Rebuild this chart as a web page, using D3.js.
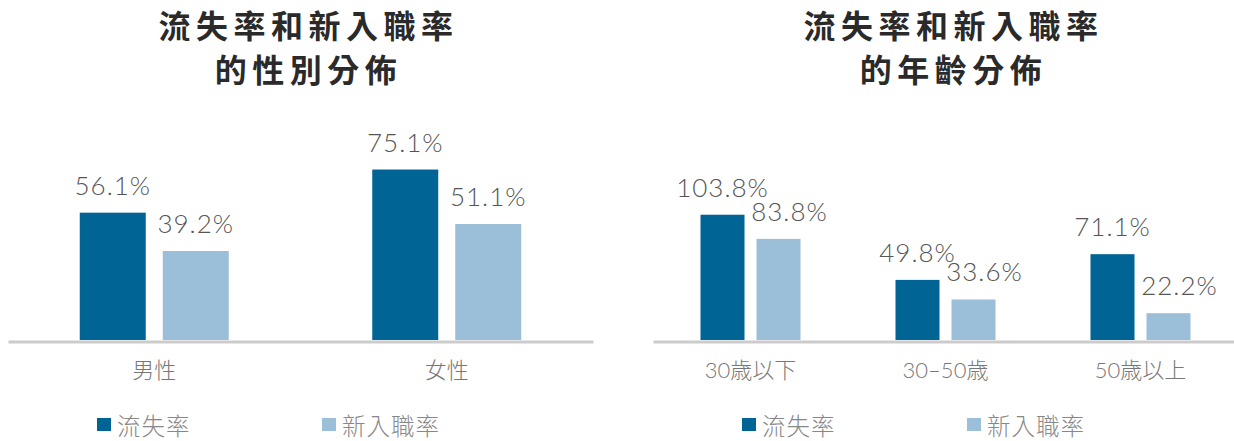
<!DOCTYPE html>
<html>
<head>
<meta charset="utf-8">
<script src="https://cdn.jsdelivr.net/npm/d3@7"></script>
<style>
    body { margin: 0; background: #fff; }
    .title { font-family: "Noto Sans CJK TC", sans-serif; font-weight: 700; fill: #2a2a2a; letter-spacing: 5.5px; }
    .value { font-family: "Lato", "Liberation Sans", sans-serif; font-weight: 300; fill: #555; letter-spacing: 1px; }
    .axis text { font-family: "Lato", "Noto Sans CJK TC", sans-serif; font-weight: 300; fill: #777; }
    .legend text { font-family: "Noto Sans CJK TC", sans-serif; font-weight: 300; fill: #888; letter-spacing: 1px; }
</style>
</head>
<body>
<div id="chart"></div>
<script>
// data
const seriesNames = ["流失率", "新入職率"];

const genderTitle = ["流失率和新入職率", "的性別分佈"];
const genderCategories = ["男性", "女性"];
const genderTurnover = [56.1, 75.1];
const genderNewHire = [39.2, 51.1];

const ageTitle = ["流失率和新入職率", "的年齡分佈"];
const ageCategories = ["30歳以下", "30–50歳", "50歳以上"];
const ageTurnover = [103.8, 49.8, 71.1];
const ageNewHire = [83.8, 33.6, 22.2];

const colors = d3.scaleOrdinal()
    .domain(seriesNames)
    .range(["#006495", "#9bbfd8"]);

const width = 1234, height = 441;
const baseline = 340;

let svg = d3.select("#chart").append("svg")
    .attr("width", width)
    .attr("height", height)
    .style("display", "block");

svg.append("rect").attr("width", width).attr("height", height).attr("fill", "#fff");

function drawPanel(opts) {
    let rows = opts.categories.map((c, i) => ({
        category: c,
        values: [opts.turnover[i], opts.newHire[i]]
    }));

    let x0 = d3.scaleBand()
        .domain(opts.categories)
        .range(opts.xRange)
        .padding(0);

    let pairWidth = opts.barWidth * 2 + opts.barGap;
    let x1 = d3.scaleBand()
        .domain(seriesNames)
        .range([0, pairWidth])
        .paddingInner(opts.barGap / (opts.barWidth + opts.barGap))
        .paddingOuter(0);

    let y = d3.scaleLinear()
        .domain([0, 100])
        .range([baseline, baseline - opts.pxPer100]);

    let g = svg.append("g");

    // title
    let cx = (opts.xRange[0] + opts.xRange[1]) / 2 + 8;
    g.selectAll(".title")
        .data(opts.title)
        .enter().append("text")
        .attr("class", "title")
        .attr("x", cx)
        .attr("y", (d, i) => 38 + i * 44)
        .attr("text-anchor", "middle")
        .style("font-size", "32px")
        .text(d => d);

    // bars
    let groups = g.selectAll(".group")
        .data(rows)
        .enter().append("g")
        .attr("class", "group")
        .attr("transform", d => "translate(" + (x0(d.category) + (x0.bandwidth() - pairWidth) / 2) + ",0)");

    groups.selectAll("rect")
        .data(d => d.values.map((v, i) => ({series: seriesNames[i], value: v})))
        .enter().append("rect")
        .attr("x", d => x1(d.series))
        .attr("y", d => y(d.value))
        .attr("width", x1.bandwidth())
        .attr("height", d => baseline - y(d.value))
        .attr("fill", d => colors(d.series));

    groups.selectAll(".value")
        .data(d => d.values.map((v, i) => ({series: seriesNames[i], value: v})))
        .enter().append("text")
        .attr("class", "value")
        .attr("x", d => x1(d.series) + x1.bandwidth() / 2 + (d.series === seriesNames[1] ? opts.labelShift : 0))
        .attr("y", d => y(d.value) - 18)
        .attr("text-anchor", "middle")
        .style("font-size", "26px")
        .text(d => d3.format(".1f")(d.value) + "%");

    // axis
    let xAxis = d3.axisBottom(x0)
        .tickSize(0)
        .tickPadding(21);

    let axisG = g.append("g")
        .attr("class", "axis")
        .attr("transform", "translate(0," + (baseline + 1.5) + ")")
        .call(xAxis);

    axisG.select(".domain")
        .attr("stroke", "#cccccc")
        .attr("stroke-width", 3);

    axisG.selectAll("text")
        .style("font-size", "22px");

    // legend
    let legend = g.append("g")
        .attr("class", "legend")
        .attr("transform", "translate(" + (opts.xRange[0] + 89) + ",418)");

    let item = legend.selectAll(".item")
        .data(seriesNames)
        .enter().append("g")
        .attr("class", "item")
        .attr("transform", (d, i) => "translate(" + (i * 225) + ",0)");

    item.append("rect")
        .attr("width", 14)
        .attr("height", 13)
        .attr("fill", d => colors(d));

    item.append("text")
        .attr("x", 20)
        .attr("y", 17)
        .style("font-size", "23.5px")
        .text(d => d);
}

drawPanel({
    title: genderTitle,
    categories: genderCategories,
    turnover: genderTurnover,
    newHire: genderNewHire,
    xRange: [8, 593],
    barWidth: 66,
    barGap: 17,
    pxPer100: 227,
    labelShift: 0
});

drawPanel({
    title: ageTitle,
    categories: ageCategories,
    turnover: ageTurnover,
    newHire: ageNewHire,
    xRange: [653, 1238],
    barWidth: 44,
    barGap: 12,
    pxPer100: 120.7,
    labelShift: 11
});
</script>
</body>
</html>
